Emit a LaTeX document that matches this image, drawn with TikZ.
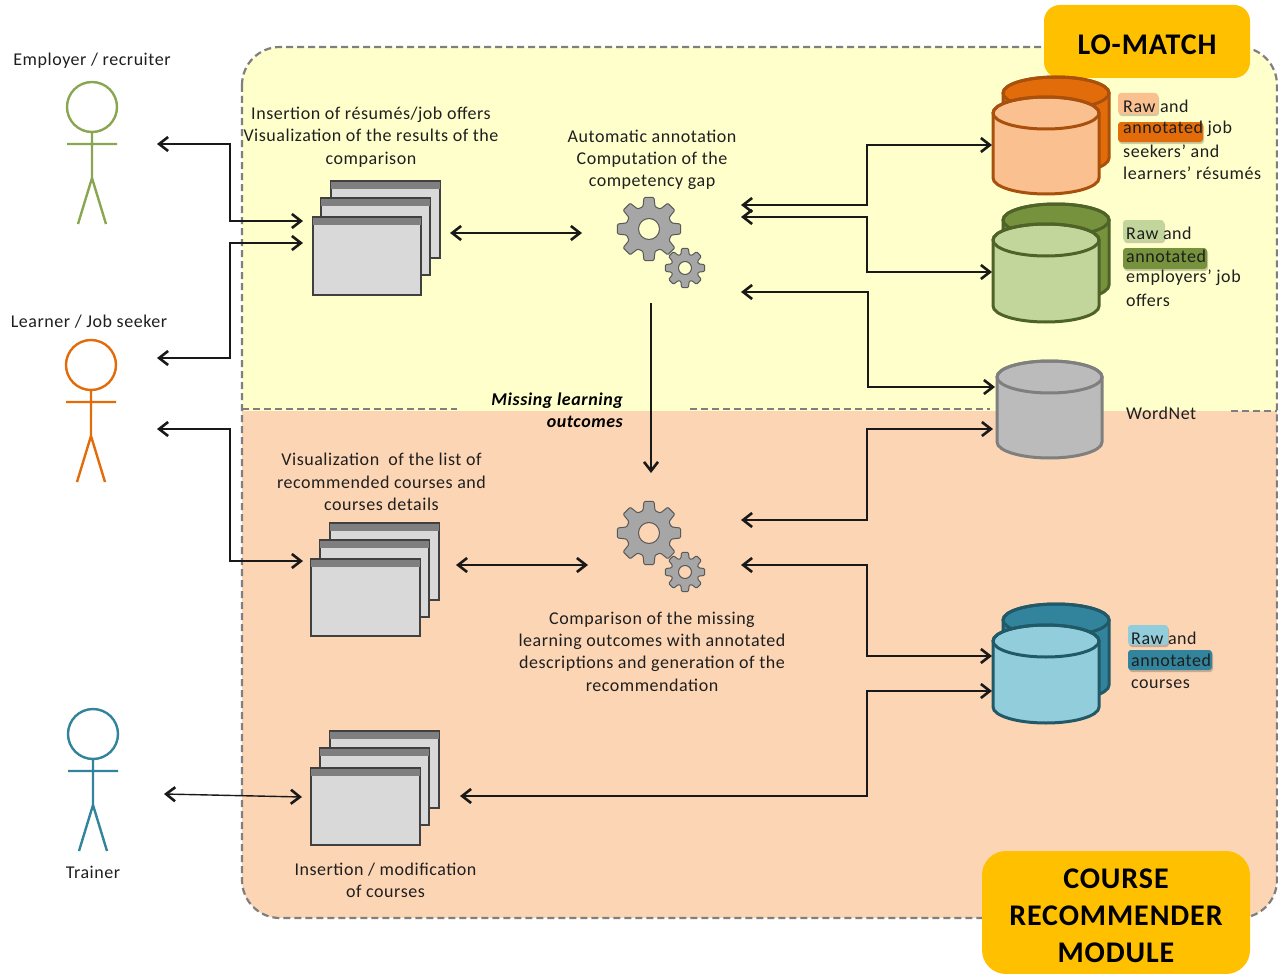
\documentclass[tikz,border=0pt]{standalone}
\usepackage{fontspec}
\setmainfont[LetterSpace=3]{Carlito}
\usetikzlibrary{arrows.meta}
\definecolor{cyellow}{HTML}{FFFFCC}
\definecolor{cpeach}{HTML}{FCD5B5}
\definecolor{cdash}{HTML}{7F7F7F}
\definecolor{cgold}{HTML}{FFC000}
\definecolor{cgreen}{HTML}{8BA650}
\definecolor{corange}{HTML}{E36C0A}
\definecolor{cteal}{HTML}{31849B}
\definecolor{cwin}{HTML}{D9D9D9}
\definecolor{cbar}{HTML}{7F7F7F}
\definecolor{cgear}{HTML}{A6A6A6}
\definecolor{cgeard}{HTML}{595959}
\definecolor{orL}{HTML}{FAC090}
\definecolor{orS}{HTML}{A8500C}
\definecolor{grB}{HTML}{76923C}
\definecolor{grL}{HTML}{C2D69B}
\definecolor{grS}{HTML}{4F6228}
\definecolor{teL}{HTML}{92CDDC}
\definecolor{teS}{HTML}{215968}
\definecolor{gyF}{HTML}{BBBBBB}
\tikzset{
  lbl/.style={inner sep=0pt,align=center,text=black!88,font=\fontsize{18}{22.3}\selectfont},
  lblL/.style={inner sep=0pt,anchor=west,text=black!88,font=\fontsize{18}{22.3}\selectfont},
  title/.style={inner sep=0pt,align=center,text=black,font=\fontsize{30}{37}\selectfont\bfseries},
  conn/.style={draw=black!90,line width=1.4pt,{Straight Barb[length=9pt,width=14pt,line width=2.6pt]}-{Straight Barb[length=9pt,width=14pt,line width=2.6pt]}},
  connone/.style={draw=black!90,line width=1.4pt,-{Straight Barb[length=9pt,width=14pt,line width=2.6pt]}},
  regionedge/.style={draw=cdash,line width=2.2pt,dash pattern=on 7pt off 4pt},
  actor/.style={line width=2.4pt,fill=none},
  winbox/.style={draw=black!75,line width=1.2pt,fill=cwin},
  winbar/.style={fill=cbar},
  hl/.style={rounded corners=3pt}
}
\newcommand{\dbcyl}[7]{%
  \filldraw[fill=#6,draw=#7,line width=3pt]
    (#1,#3) -- (#1,#4) arc[start angle=180,end angle=360,x radius={(#2-#1)/2*1pt},y radius=#5 pt]
    -- (#2,#3) arc[start angle=0,end angle=180,x radius={(#2-#1)/2*1pt},y radius=#5 pt] -- cycle;
  \draw[draw=#7,line width=3pt] ({(#1+#2)/2},#3) ellipse[x radius={(#2-#1)/2*1pt},y radius=#5 pt];
}
\newcommand{\winone}[4]{%
  \filldraw[winbox] (#1,#3) rectangle (#2,#4);
  \fill[winbar] (#1,#3) rectangle (#2,#3+8);
  \draw[draw=black!75,line width=1.2pt] (#1,#3) -- (#2,#3);
}
\newcommand{\gearshape}[6]{% x y outer body hole halfwidth
  \begin{scope}[shift={(#1,#2)}]
  \filldraw[fill=cgear,draw=cgeard,line width=1pt,line join=round,even odd rule,rounded corners=1.2pt]
    (-#6*1.7:#4)
    \foreach \a in {0,45,...,315}{
      -- (\a-#6:#3) -- (\a+#6:#3) -- (\a+#6*1.7:#4) -- (\a+45-#6*1.7:#4)
    } -- cycle (0,0) circle[radius=#5 pt];
  \end{scope}
}
\begin{document}
\begin{tikzpicture}[x=1pt,y=-1pt]
\useasboundingbox (0,0) rectangle (1278,974);
\fill[white] (0,0) rectangle (1278,974);
% region
\begin{scope}
  \clip[rounded corners=38pt] (242,47) rectangle (1277,918);
  \fill[cyellow] (242,47) rectangle (1277,411);
  \fill[cpeach] (242,411) rectangle (1277,918);
\end{scope}
\draw[regionedge,rounded corners=38pt] (242,47) rectangle (1277,918);
\draw[regionedge] (242,409) -- (457,409);
\draw[regionedge] (690,409) -- (990,409);
\draw[regionedge] (1231,411) -- (1277,411);

% title boxes
\node[fill=cgold,rounded corners=16pt,minimum width=206pt,minimum height=73pt,inner sep=0pt] (lomatch) at (1147,41.5) {};
\node[title] (lomatchT) at (1147,45) {LO-MATCH};
\node[fill=cgold,rounded corners=24pt,minimum width=268pt,minimum height=123pt,inner sep=0pt] (crm) at (1116,912.5) {};
\node[title] (crmT) at (1116,916) {COURSE\\RECOMMENDER\\MODULE};

% actors
\draw[actor,draw=cgreen] (92,107) circle[radius=25pt] (92,132) -- (92,178) (67,144) -- (117,144) (78,224) -- (92,178) -- (106,224);
\draw[actor,draw=corange] (91,365) circle[radius=25pt] (91,390) -- (91,436) (66,402) -- (116,402) (77,482) -- (91,436) -- (105,482);
\draw[actor,draw=cteal] (93,734) circle[radius=25pt] (93,759) -- (93,805) (68,771) -- (118,771) (79,851) -- (93,805) -- (107,851);
\node[lbl] (employer) at (92,61) {Employer / recruiter};
\node[lbl] (learner) at (89,322) {Learner / Job seeker};
\node[lbl] (trainer) at (93,872) {Trainer};

% windows
\winone{331}{440}{181}{258}\winone{321}{430}{198}{275}\winone{313}{421}{217}{295}
\winone{330}{439}{523}{600}\winone{320}{429}{540}{617}\winone{311}{420}{559}{636}
\winone{330}{439}{731}{808}\winone{320}{429}{748}{825}\winone{311}{420}{768}{845}

% gears
\gearshape{649}{229}{32}{23}{10.5}{9}
\gearshape{685}{268}{20}{14}{6.5}{10}
\gearshape{649}{533}{32}{23}{10.5}{9}
\gearshape{685}{572}{20}{14}{6.5}{10}

% databases
\dbcyl{1003}{1109}{93}{158}{16}{corange}{orS}
\dbcyl{993}{1099}{113}{178}{16}{orL}{orS}
\dbcyl{1003}{1109}{220}{285}{16}{grB}{grS}
\dbcyl{993}{1099}{240}{306}{16}{grL}{grS}
\dbcyl{997}{1102}{377}{442}{16}{gyF}{cdash}
\dbcyl{1003}{1109}{620}{685}{16}{cteal}{teS}
\dbcyl{993}{1099}{641}{707}{16}{teL}{teS}

% highlights
\fill[hl,black,opacity=.2] (1119,95) rectangle (1159,116);
\fill[hl,orL] (1118,93) rectangle (1158,114);
\fill[hl,black,opacity=.2] (1119,124) rectangle (1204,144);
\fill[hl,corange] (1118,122) rectangle (1203,142);
\fill[hl,black,opacity=.2] (1124,222) rectangle (1165,243);
\fill[hl,grL] (1123,220) rectangle (1164,241);
\fill[hl,black,opacity=.2] (1124,250) rectangle (1208,271);
\fill[hl,grB] (1123,248) rectangle (1207,269);
\fill[hl,black,opacity=.2] (1129,627) rectangle (1169,647);
\fill[hl,teL] (1128,625) rectangle (1168,645);
\fill[hl,black,opacity=.2] (1129,652) rectangle (1213,672);
\fill[hl,cteal] (1128,650) rectangle (1212,670);

% side labels
\node[lblL] (t1a) at (1123,106) {Raw and};
\node[lblL] (t1b) at (1123,129) {annotated job};
\node[lblL] (t1c) at (1123,151) {seekers’ and};
\node[lblL] (t1d) at (1123,173) {learners’ résumés};
\node[lblL] (t2a) at (1126,233) {Raw and};
\node[lblL] (t2b) at (1126,256) {annotated};
\node[lblL] (t2c) at (1126,278) {employers’ job};
\node[lblL] (t2d) at (1126,300) {offers};
\node[lblL] (t3) at (1126,413) {WordNet};
\node[lblL] (t4a) at (1131,638) {Raw and};
\node[lblL] (t4b) at (1131,660) {annotated};
\node[lblL] (t4c) at (1131,684) {courses};

% center labels
\node[lbl] (l1) at (371,137) {Insertion of résumés/job offers\\Visualization of the results of the\\comparison};
\node[lbl] (l2) at (652,160) {Automatic annotation\\Computation of the\\competency gap};
\node[lbl] (l3) at (381.5,482) {Visualization\ \ of the list of\\recommended courses and\\courses details};
\node[lbl] (l4) at (652,651.5) {Comparison of the missing\\learning outcomes with annotated\\descriptions and generation of the\\recommendation};
\node[lbl] (l5) at (385.5,880) {Insertion / modification\\of courses};
\node[inner sep=0pt,align=right,anchor=east,text=black,font=\fontsize{18}{22.3}\selectfont\bfseries\itshape] (miss) at (623,410.5) {Missing learning\\outcomes};

% connector ports
\coordinate (empP) at (157,144);
\coordinate (lrnP) at (157,358);
\coordinate (lrnQ) at (157,429);
\coordinate (trnP) at (164,794);
\coordinate (w1a) at (303,221);
\coordinate (w1b) at (303,243);
\coordinate (w1c) at (450,233);
\coordinate (w2a) at (303,561);
\coordinate (w2c) at (456,565);
\coordinate (w3a) at (302,797);
\coordinate (w3c) at (460,796);
\coordinate (g1w) at (582,233);
\coordinate (g1a) at (741,205);
\coordinate (g1b) at (741,217);
\coordinate (g1c) at (741,292);
\coordinate (g1s) at (651,303);
\coordinate (g2n) at (651,473);
\coordinate (g2w) at (588,565);
\coordinate (g2a) at (741,520);
\coordinate (g2b) at (741,565);
\coordinate (dbO) at (992,145);
\coordinate (dbG) at (992,272);
\coordinate (dbW1) at (995,387);
\coordinate (dbW2) at (993,429);
\coordinate (dbT1) at (992,656);
\coordinate (dbT2) at (992,691);

% connectors
\draw[conn] (empP) -- (230,144) -- (230,221) -- (w1a);
\draw[conn] (lrnP) -- (230,358) -- (230,243) -- (w1b);
\draw[conn] (lrnQ) -- (230,429) -- (230,561) -- (w2a);
\draw[conn] (trnP) -- (w3a);
\draw[conn] (w1c) -- (g1w);
\draw[conn] (w2c) -- (g2w);
\draw[conn] (w3c) -- (867,796) -- (867,691) -- (dbT2);
\draw[conn] (g1a) -- (867,205) -- (867,145) -- (dbO);
\draw[conn] (g1b) -- (867,217) -- (867,272) -- (dbG);
\draw[conn] (g1c) -- (868,292) -- (868,387) -- (dbW1);
\draw[conn] (g2a) -- (867,520) -- (867,429) -- (dbW2);
\draw[conn] (g2b) -- (867,565) -- (867,656) -- (dbT1);
\draw[connone] (g1s) -- (g2n);
\end{tikzpicture}
\end{document}
